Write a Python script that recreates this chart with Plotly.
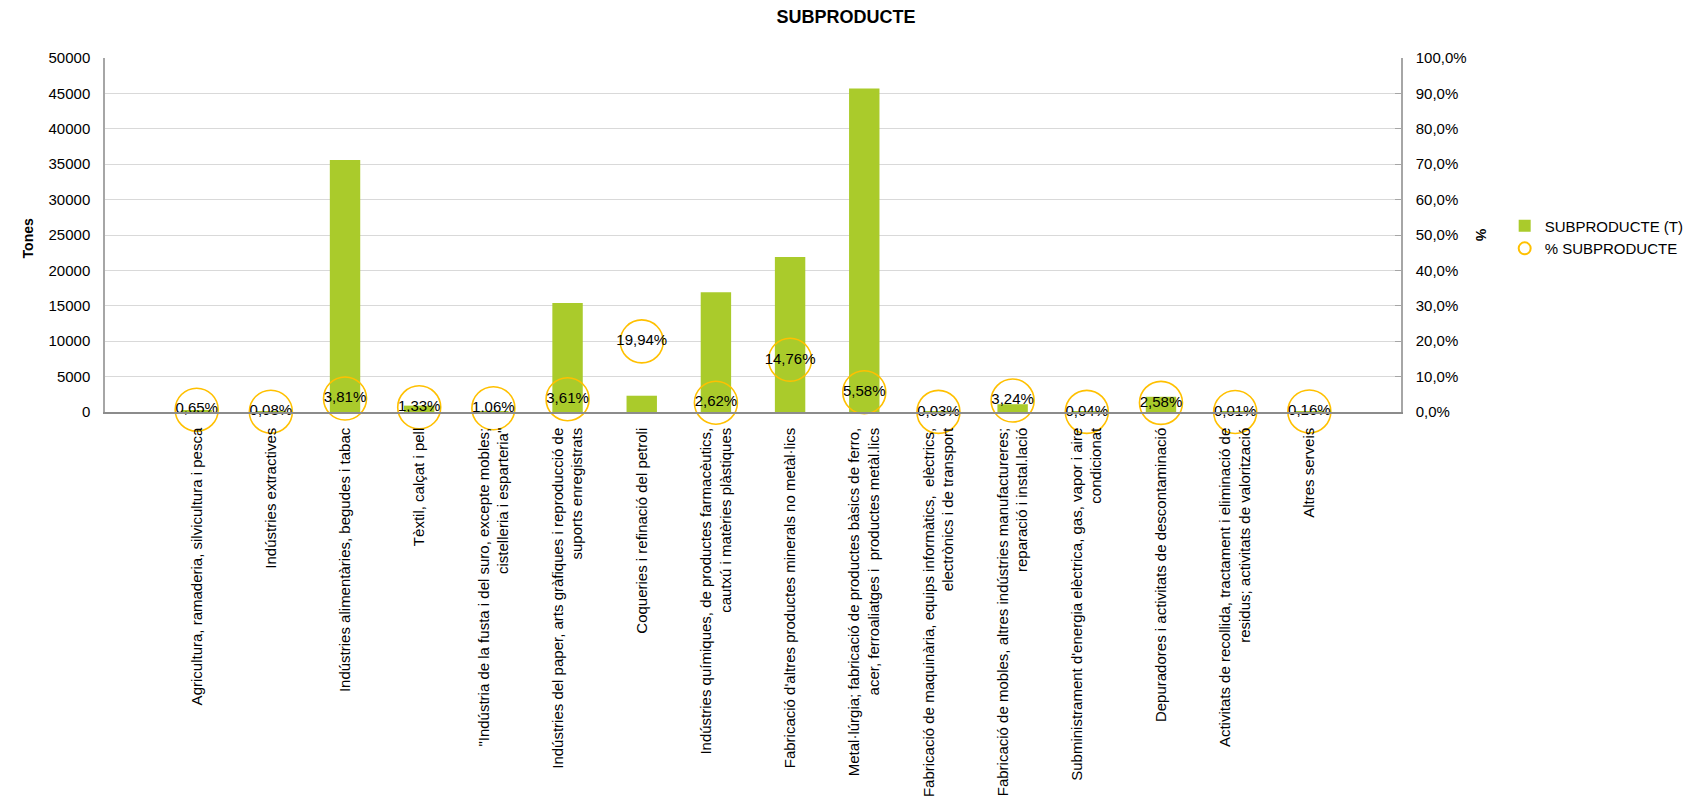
import plotly.graph_objects as go

categories = [
    "Agricultura, ramaderia, silvicultura i pesca",
    "Indústries extractives",
    "Indústries alimentàries, begudes i tabac",
    "Tèxtil, calçat i pell",
    "\"Indústria de la fusta i del suro, excepte mobles;<br>cistelleria i esparteria\"",
    "Indústries del paper, arts gràfiques i reproducció de<br>suports enregistrats",
    "Coqueries i refinació del petroli",
    "Indústries químiques, de productes farmacèutics,<br>cautxú i matèries plàstiques",
    "Fabricació d'altres productes minerals no metàl·lics",
    "Metal·lúrgia; fabricació de productes bàsics de ferro,<br>acer, ferroaliatges i  productes metàl.lics",
    "Fabricació de maquinària, equips informàtics,  elèctrics,<br>electrònics i de transport",
    "Fabricació de mobles, altres indústries manufactureres;<br>reparació i instal.lació",
    "Subministrament d'energia elèctrica, gas, vapor i aire<br>condicionat",
    "Depuradores i activitats de descontaminació",
    "Activitats de recollida, tractament i eliminació de<br>residus; activitats de valorització",
    "Altres serveis",
]

tones = [150, 20, 35600, 900, 120, 15400, 2300, 16900, 21900, 45700,
         30, 1100, 40, 2150, 10, 100]

pct = [0.65, 0.08, 3.81, 1.33, 1.06, 3.61, 19.94, 2.62, 14.76, 5.58,
       0.03, 3.24, 0.04, 2.58, 0.01, 0.16]

font_family = "Liberation Sans, Arial, sans-serif"

fig = go.Figure()
fig.add_trace(go.Bar(
    x=categories, y=tones, name="SUBPRODUCTE (T)",
    marker=dict(color="#AACB2B", line=dict(width=0)),
    width=0.41, yaxis="y",
))
fig.add_trace(go.Scatter(
    x=categories, y=pct, name="% SUBPRODUCTE", yaxis="y2",
    mode="markers+text",
    marker=dict(symbol="circle-open", size=43, color="#FFC000",
                line=dict(color="#FFC000", width=1.6)),
    text=[f"{v:.2f}%".replace(".", ",") for v in pct],
    textposition="middle center",
    textfont=dict(size=15, color="#000000", family=font_family),
    cliponaxis=False,
))

fig.update_layout(
    width=1693, height=811,
    paper_bgcolor="white", plot_bgcolor="white",
    separators=",.",
    font=dict(family=font_family, size=15, color="#000000"),
    title=dict(text="<b>SUBPRODUCTE</b>", x=0.495, xanchor="center",
               xref="container", y=0.989, yanchor="middle",
               font=dict(size=18)),
    margin=dict(l=97, r=294, t=50, b=407),
    xaxis=dict(
        tickangle=-90, showgrid=False, showline=True,
        linecolor="#8C8C8C", linewidth=1.5, ticks="",
        tickfont=dict(size=15), automargin=False,
        ticklabelstandoff=8,
    ),
    yaxis=dict(
        range=[0, 50000], dtick=5000, tickformat="d",
        showgrid=True, gridcolor="#D9D9D9", gridwidth=1.2,
        showline=True, linecolor="#A6A6A6", linewidth=1.5,
        ticks="", zeroline=False,
        tickfont=dict(size=15), automargin=False,
        ticklabelstandoff=10,
    ),
    yaxis2=dict(
        overlaying="y", side="right", range=[0, 100], dtick=10,
        tickformat=".1f", ticksuffix="%", showgrid=False,
        showline=True, linecolor="#A6A6A6", linewidth=1.5,
        ticks="inside", ticklen=6, tickcolor="#A6A6A6", zeroline=False,
        tickfont=dict(size=15), automargin=False,
        ticklabelstandoff=10,
    ),
    legend=dict(x=1.08, y=0.494, xanchor="left", yanchor="middle",
                font=dict(size=15), itemsizing="constant",
                bgcolor="rgba(0,0,0,0)"),
    showlegend=True,
    annotations=[
        dict(text="<b>Tones</b>", xref="paper", yref="paper",
             x=-0.0595, y=0.49, textangle=-90, showarrow=False,
             font=dict(size=14), xanchor="center", yanchor="middle"),
        dict(text="<b>%</b>", xref="paper", yref="paper",
             x=1.062, y=0.50, textangle=90, showarrow=False,
             font=dict(size=14), xanchor="center", yanchor="middle"),
    ],
)

fig.write_html("out.html")
